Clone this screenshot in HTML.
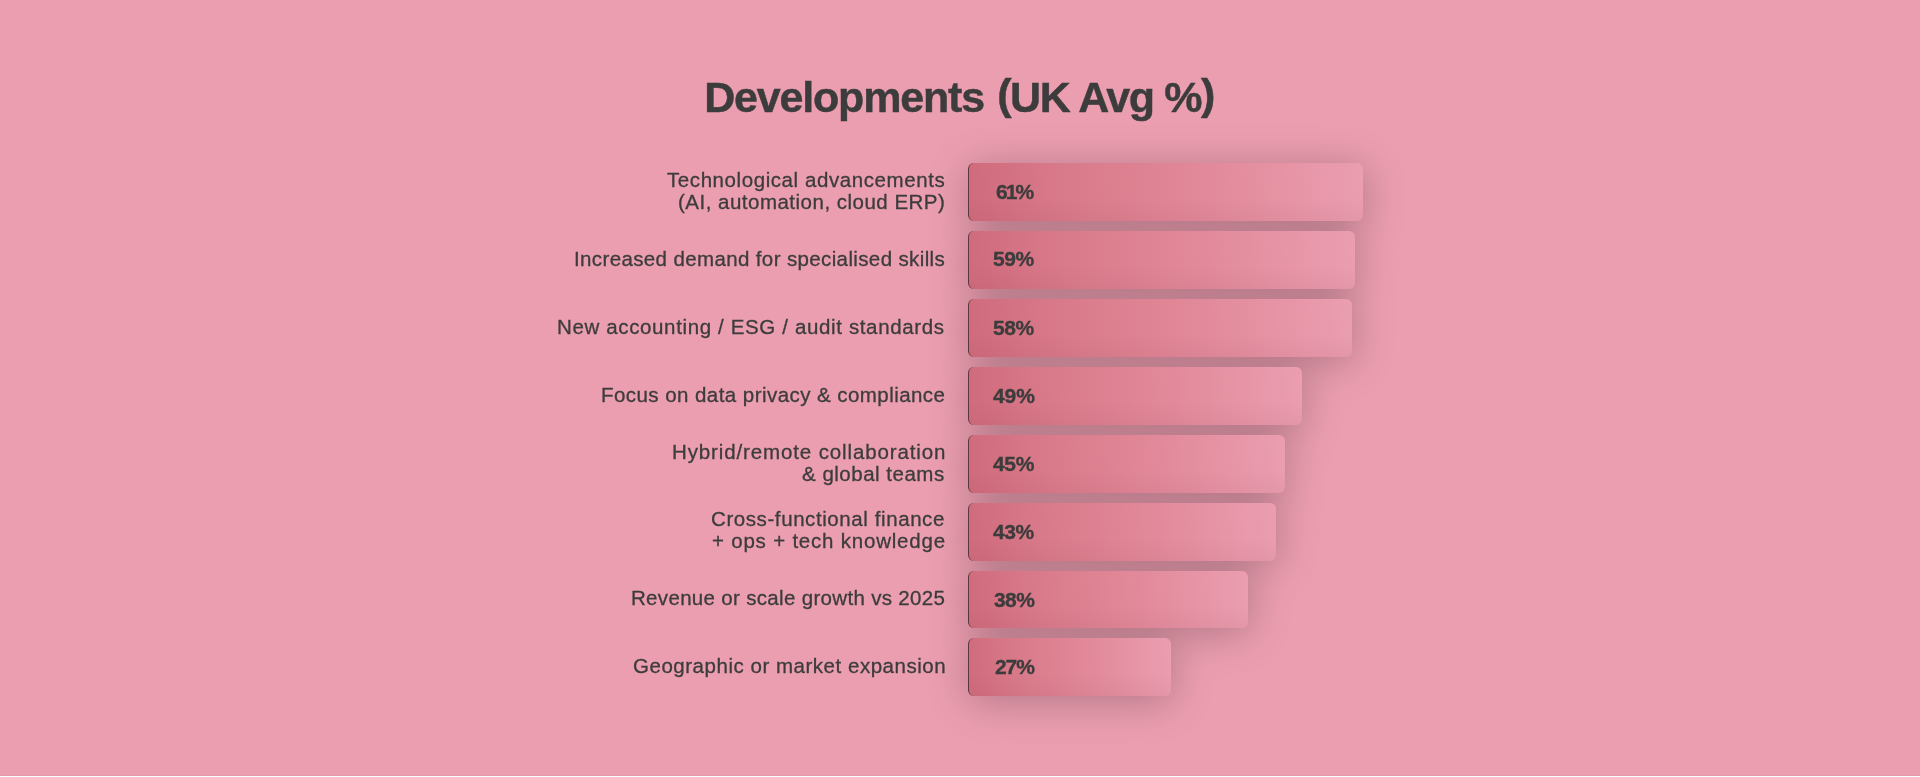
<!DOCTYPE html>
<html lang="en">
<head>
<meta charset="utf-8">
<title>Developments (UK Avg %)</title>
<style>
html,body{margin:0;padding:0}
body{width:1920px;height:777px;overflow:hidden;background:#fff;font-family:"Liberation Sans",Arial,sans-serif;color:#3c3c3c}
.chart{position:relative;width:1920px;height:776px;overflow:hidden;background:#eb9eb0}
.edge{position:absolute;left:0;top:775px;width:1920px;height:1px;background:#e898aa}
h1,.lbl,.pct{will-change:transform}
h1{position:absolute;left:0;width:1920px;margin:0;text-align:center;font-weight:700;font-size:43px;letter-spacing:-1.3px;line-height:60px;white-space:nowrap;-webkit-text-stroke:.45px #3c3c3c}
.pr{position:relative;top:-3.5px}
.lbl{position:absolute;right:976.0px;margin:0;font-size:20.5px;line-height:24px;white-space:pre;text-align:right;font-weight:400;-webkit-text-stroke:.3px #3c3c3c}
.bars{position:absolute;left:0;top:0;width:1920px;height:776px;filter:drop-shadow(1.5px 5px 20px rgba(0,0,0,.245))}
.bar{position:absolute;left:968.0px;height:57.7px;box-sizing:border-box;border-left:1px solid #5b353f;border-radius:6px;background:linear-gradient(to bottom,rgba(90,20,40,0) 60%,rgba(90,20,40,.045) 100%),linear-gradient(86deg,#cf6b7c 0%,#d97a8a 25%,#e18899 58%,#ea9eb0 100%)}
.pct{position:absolute;margin:0;font-weight:700;font-size:21px;letter-spacing:-1.1px;line-height:24px;white-space:nowrap;text-align:right;-webkit-text-stroke:.35px #3c3c3c}

</style>
</head>
<body>
<div class="chart">
<h1 style="top:66.80px;left:-0.66px;letter-spacing:-1.180px">Developments <span style="margin-left:2.5px;letter-spacing:-1.430px"><span class="pr">(</span>UK Avg %<span class="pr">)</span></span></h1>
<p class="lbl" style="top:167.80px;letter-spacing:0.576px;margin-right:-1.076px">Technological advancements</p>
<p class="lbl" style="top:189.80px;letter-spacing:0.491px;margin-right:-1.741px">(AI, automation, cloud ERP)</p>
<p class="lbl" style="top:247.30px;letter-spacing:0.371px;margin-right:-0.871px">Increased demand for specialised skills</p>
<p class="lbl" style="top:315.00px;letter-spacing:0.635px;margin-right:-1.135px">New accounting / ESG / audit standards</p>
<p class="lbl" style="top:382.70px;letter-spacing:0.444px;margin-right:-1.194px">Focus on data privacy &amp; compliance</p>
<p class="lbl" style="top:440.40px;letter-spacing:0.876px;margin-right:-2.126px">Hybrid/remote collaboration</p>
<p class="lbl" style="top:462.30px;letter-spacing:0.507px;margin-right:-1.007px">&amp; global teams</p>
<p class="lbl" style="top:506.90px;letter-spacing:0.584px;margin-right:-1.334px">Cross-functional finance</p>
<p class="lbl" style="top:528.70px;letter-spacing:0.788px;margin-right:-1.538px">+ ops + tech knowledge</p>
<p class="lbl" style="top:586.10px;letter-spacing:0.320px;margin-right:-1.070px">Revenue or scale growth vs 2025</p>
<p class="lbl" style="top:653.90px;letter-spacing:0.525px;margin-right:-1.775px">Geographic or market expansion</p>
<div class="bars">
<div class="bar" style="top:163px;height:58px;width:395.0px"></div>
<div class="bar" style="top:231px;height:58px;width:387.0px"></div>
<div class="bar" style="top:299px;height:58px;width:384.0px"></div>
<div class="bar" style="top:367px;height:58px;width:334.0px"></div>
<div class="bar" style="top:435px;height:58px;width:317.0px"></div>
<div class="bar" style="top:503px;height:57.5px;width:308.0px"></div>
<div class="bar" style="top:571px;height:57px;width:280.0px"></div>
<div class="bar" style="top:638px;height:58px;width:203.0px"></div>
</div>
<p class="pct" style="top:179.99px;letter-spacing:-1.975px;right:887.82px">61%</p>
<p class="pct" style="top:246.89px;letter-spacing:-0.475px;right:886.32px">59%</p>
<p class="pct" style="top:315.79px;letter-spacing:-0.475px;right:886.32px">58%</p>
<p class="pct" style="top:383.69px;letter-spacing:-0.100px;right:885.70px">49%</p>
<p class="pct" style="top:451.59px;letter-spacing:-0.350px;right:885.95px">45%</p>
<p class="pct" style="top:520.49px;letter-spacing:-0.475px;right:886.07px">43%</p>
<p class="pct" style="top:588.39px;letter-spacing:-0.600px;right:886.20px">38%</p>
<p class="pct" style="top:655.29px;letter-spacing:-1.100px;right:886.70px">27%</p>
<div class="edge"></div>
</div>
</body>
</html>
